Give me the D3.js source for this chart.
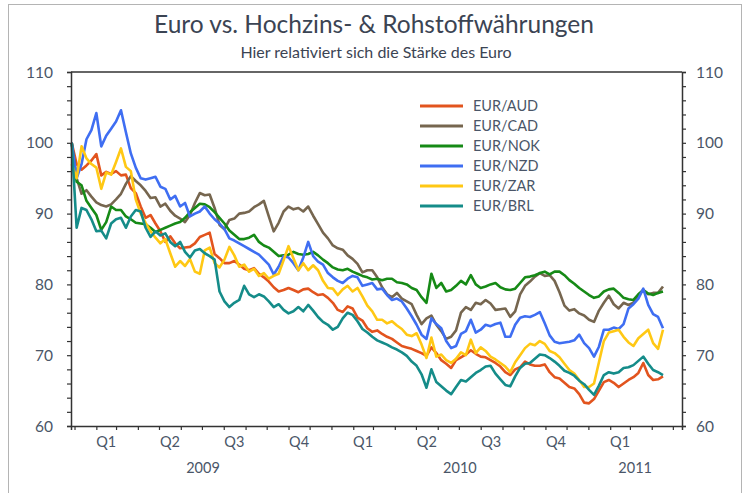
<!DOCTYPE html>
<html><head><meta charset="utf-8">
<script src="https://cdn.jsdelivr.net/npm/d3@7"></script>
<style>body{margin:0;background:#fff}svg{display:block}text{font-family:Lato,"Open Sans",sans-serif}</style>
</head><body><svg id="c" width="747" height="493"></svg>
<script>
const title = "Euro vs. Hochzins- & Rohstoffwährungen";
const subtitle = "Hier relativiert sich die Stärke des Euro";
const seriesNames = ["EUR/AUD","EUR/CAD","EUR/NOK","EUR/NZD","EUR/ZAR","EUR/BRL"];
const seriesColors = ["#e2541e","#76664f","#168a16","#3f6ef2","#ffc814","#158c89"];
const yTicks = [60,70,80,90,100,110];
const quarterLabels = ["Q1","Q2","Q3","Q4","Q1","Q2","Q3","Q4","Q1"];
const yearLabels = ["2009","2010","2011"];
const firstWeek = "2008-12-28";

const AUD = [100,97,96.2,96.8,97.5,98.4,95.4,95.9,95.6,96,95.4,95.5,93.6,92.9,91,89.4,89.8,88.6,87.5,86,86.8,85.8,85.1,85.2,85.3,85.8,86.7,87,87.3,84.3,83.7,83,83,83.3,82.8,82.2,82,82.3,81.5,81,80.4,79.6,79,79.2,79.5,79.2,78.9,79.3,79.4,78.9,78.5,78.6,78.1,77.4,76.4,76.1,76.9,76.6,75.3,74.9,73.8,73.3,73.5,73,72.6,72.3,71.8,71.3,71.1,70.9,70.6,70.3,69.9,71.1,70.3,69.3,68.8,68.2,69.3,69.7,70.1,70.7,70.2,69.8,69.7,69.3,68.9,68.4,67.6,67.2,68,68.3,69.1,68.7,68.5,68.5,68.7,67.6,66.9,66.7,66.1,65.5,65.3,64.5,63.3,63.2,63.8,65,66.2,66.5,66.1,65.5,66,66.5,66.9,67.5,68.9,67.2,66.5,66.6,67];
const CAD = [100,95,92.8,93.3,92.4,91.6,91.2,91,91.3,92,92.8,94.2,95.3,94.6,94,93.2,92.2,92.3,91,91.4,90.4,89.7,89.3,88.8,89.8,91.5,92.9,92.6,92.7,90.8,88.4,87.8,89.1,89.3,90,90.1,90.3,90.9,91.3,91.8,89.6,87.5,88.7,90.3,91,90.6,90.8,90.3,91,89.7,88.5,87.3,86.5,85.5,85.1,84.9,84.1,83.6,82.9,81.7,82,82,81,79.6,78.6,78.2,78.8,78,77.6,77.2,75.7,74.4,75.2,75.6,74.3,73.4,72.3,72.6,73.5,76,76.8,76.4,77.4,77.2,77.8,77.3,76.4,76.5,76.6,75.4,76.2,78.6,79.8,80.4,81.1,81.6,81.2,81.3,80.5,78.9,77,76.3,76.5,75.9,75.6,75,74.7,76.3,77.4,78.4,77.2,76.6,77.4,77.1,77.4,78.5,79.2,78.6,78.8,78.8,79.7];
const NOK = [100,94.5,94,91.8,90.8,89.8,87.7,88.8,91,90.5,90.5,89.6,89.2,88.7,88.6,88.5,88,87.4,87.7,88,88.3,88.6,88.8,89.4,90.2,90.8,91.4,91.3,90.9,90.2,89.4,88.6,87.6,87,86.4,86.4,86.6,87,86,85.5,85.2,84.6,84,84.1,84.2,84.6,84.3,84.2,84.3,84.6,84.1,83.5,83,82.4,82.1,82,82.2,81.8,81.5,81.2,81,80.7,80.8,80.6,80.8,80.8,80.3,80.2,80,79.5,79.2,78.2,77.4,81.5,79.5,80.2,79,79.2,79.8,80.5,80,81.3,80,79.5,79.7,80,80.2,79.6,79.3,79.2,79.4,80.2,81,81.1,81.3,81.6,81.8,81.4,81.8,81.8,81.3,80.6,80.1,79.5,79,78.5,78.1,78.3,79,79.3,79.4,78.8,78.1,77.9,77.8,78.6,79.2,78.7,78.5,78.8,79];
const NZD = [100,95,97,100.5,101.8,104.2,99.5,101,102,103,104.6,101.5,98.5,96.5,95,94.8,95,95.2,93.8,93.5,92,92.5,91,91.5,89.6,90,90.3,91,90,89.2,88.6,87.8,86.5,86.2,85.8,85.4,85,84.6,84.2,83.5,82.8,81.4,82.5,84,83.8,83,82,83.8,86,84,83.2,82.8,81.6,81,80.5,80.2,80.8,81.2,81,79.8,80,80.2,79.3,79.4,78.5,77.8,78,77.6,76.6,75.5,74.3,72.9,72.3,75.2,74.4,73.8,72,71,71.3,73,73.4,75,73.2,73.6,74.3,74.1,74.4,74.6,72.6,72.6,74.3,75.3,75.5,75.4,75.7,76.1,74.5,72.8,71.9,71.7,71.8,71.9,72.1,72.9,71.7,71,69.8,71.2,73.6,73.6,73.9,73.7,74.4,76.6,77.2,78,79.4,77.1,75.8,75.4,73.8];
const ZAR = [97,95,99.5,97.8,97,96.5,93.5,95.8,95.5,97.3,99.2,96.6,96,92,90,88.7,87.5,86.6,85.8,86.4,84.4,82.5,83.3,82.6,83.6,81.8,81.5,84.8,85.2,83,82.4,83.5,85.3,84.1,82.5,82.8,81.8,82.2,81.2,81.6,80.8,81.2,81.5,83.4,85.4,83.7,82,83,82,82.7,82,80.5,79.5,79.4,78.5,79.3,79.8,79,79.5,78.3,77,76.2,75,75,74.5,74.8,74.2,73.7,72.9,72.7,73.1,71.5,69.6,72.5,69.8,70.1,69.3,68.9,69.5,70.4,70,72.2,70.3,71.1,70.6,69.8,69.4,68.9,68.4,67.6,69,70,71,71.6,71.4,72,71.6,70.6,70.3,69.7,68.8,67.9,67.4,66.5,65.5,65.5,66,69,72,73.2,73.4,73.6,72.6,71.8,71.3,72.4,73,73.6,71.7,70.9,73.6];
const BRL = [100,88,90.8,90.5,89.2,87.5,87.6,86.5,88.6,89.2,89.4,88,89.6,90.5,90.3,88,86.7,87.5,86.9,87.2,86,85.4,86,84.6,83.8,84.8,85,84.4,84,83.5,79,77.6,76.8,77.4,77.8,79.8,78.6,78.2,78.6,78.3,77.6,76.8,77.2,76.4,75.9,76.2,76.8,76.2,77.1,76.3,75.4,74.7,74.3,73.6,74,75.2,76,75.7,74.8,73.7,73.2,72.6,72.1,71.8,71.5,71.1,70.8,70.4,69.9,69.1,68.5,67.3,65.4,68,66.2,65.6,65,64.5,65.5,66.5,66.3,66.9,67.5,67.9,68.4,68.5,67.4,66.6,65.8,65.6,67,68.2,68.8,68.9,69.5,70.1,70,69.6,69.1,68.5,67.8,67.5,67.1,66.4,65.9,65.1,64.4,65.7,67.2,67.6,67.4,67.6,68.2,68.3,68.6,69.2,69.8,68.8,67.9,67.6,67.2];
const seriesValues = [AUD,CAD,NOK,NZD,ZAR,BRL];

const svg = d3.select("#c");
const W = 747, H = 493;
const M = {left:71, right:682, top:72, bottom:426};
const textColor = "#4a5668";

const start = new Date(firstWeek+"T00:00:00");
const dates = AUD.map((_, i) => d3.timeDay.offset(start, 7*i));

const x = d3.scaleTime().domain([new Date("2008-12-27T00:00:00"), new Date("2011-05-14T00:00:00")]).range([M.left, M.right]);
const y = d3.scaleLinear().domain([60,110]).range([M.bottom, M.top]);

// outer frame
svg.append("rect").attr("x",8.5).attr("y",4.5).attr("width",733).attr("height",H+10)
  .attr("fill","#fff").attr("stroke","#b4b4b4").attr("stroke-width",1);

// titles
svg.append("text").attr("x",374).attr("y",33).attr("text-anchor","middle")
  .attr("font-size",24.5).attr("fill","#3b4453").text(title);
svg.append("text").attr("x",376).attr("y",58).attr("text-anchor","middle")
  .attr("font-size",16).attr("fill","#3b4453").text(subtitle);

// series
const line = d3.line().x((d,i)=>x(dates[i])).y(d=>y(d));
const g = svg.append("g");
seriesValues.forEach((vals, k) => {
  g.append("path").datum(vals).attr("d", line).attr("fill","none")
   .attr("stroke", seriesColors[k]).attr("stroke-width",2.6).attr("stroke-linejoin","round");
});

// frame lines
svg.append("line").attr("x1",M.left).attr("x2",M.right).attr("y1",M.top).attr("y2",M.top).attr("stroke","#333").attr("stroke-width",1.3);

// y axes
const minorTicks = d3.range(60,111,2);
const yLeft = d3.axisLeft(y).tickValues(minorTicks).tickSize(4).tickFormat("");
const yRight = d3.axisRight(y).tickValues(minorTicks).tickSize(4).tickFormat("");
const gl = svg.append("g").attr("transform",`translate(${M.left},0)`).call(yLeft);
const gr = svg.append("g").attr("transform",`translate(${M.right},0)`).call(yRight);
[gl,gr].forEach(a=>{a.select(".domain").attr("stroke","#333").attr("stroke-width",1.5);a.selectAll(".tick line").attr("stroke","#333").attr("stroke-width",1.2);});
yTicks.forEach(v=>{
  svg.append("text").attr("x",53).attr("y",y(v)+5.5).attr("text-anchor","end").attr("font-size",15.5).attr("fill",textColor).text(v);
  svg.append("text").attr("x",696).attr("y",y(v)+5.5).attr("text-anchor","start").attr("font-size",15.5).attr("fill",textColor).text(v);
});

// x axis
const months = d3.timeMonth.range(new Date("2009-01-01T00:00:00"), new Date("2011-05-14T00:00:00"));
const xAxis = d3.axisBottom(x).tickValues(months).tickSize(4).tickFormat("");
const gx = svg.append("g").attr("transform",`translate(0,${M.bottom})`).call(xAxis);
gx.select(".domain").attr("stroke","#333").attr("stroke-width",1.5);
gx.selectAll(".tick line").attr("stroke","#333").attr("stroke-width",1.2);

quarterLabels.forEach((q,i)=>{
  const qs = d3.timeMonth.offset(new Date("2009-01-01T00:00:00"), 3*i);
  const qe = d3.timeMonth.offset(qs, 3);
  const cx = (x(qs)+x(qe))/2;
  svg.append("text").attr("x",cx).attr("y",447).attr("text-anchor","middle").attr("font-size",14.5).attr("fill",textColor).text(q);
});
yearLabels.forEach((yr,i)=>{
  const ys = new Date(`${yr}-01-01T00:00:00`);
  let ye = new Date(`${+yr+1}-01-01T00:00:00`);
  if (ye > x.domain()[1]) ye = x.domain()[1];
  const cx = (x(ys)+x(ye))/2;
  svg.append("text").attr("x",cx).attr("y",473).attr("text-anchor","middle").attr("font-size",14.5).attr("fill",textColor).text(yr);
});

// legend
seriesNames.forEach((n,k)=>{
  const ly = 106 + 20*k;
  svg.append("line").attr("x1",420).attr("x2",463).attr("y1",ly).attr("y2",ly).attr("stroke",seriesColors[k]).attr("stroke-width",3);
  svg.append("text").attr("x",473).attr("y",ly+5).attr("font-size",14.5).attr("fill",textColor).text(n);
});
</script></body></html>
